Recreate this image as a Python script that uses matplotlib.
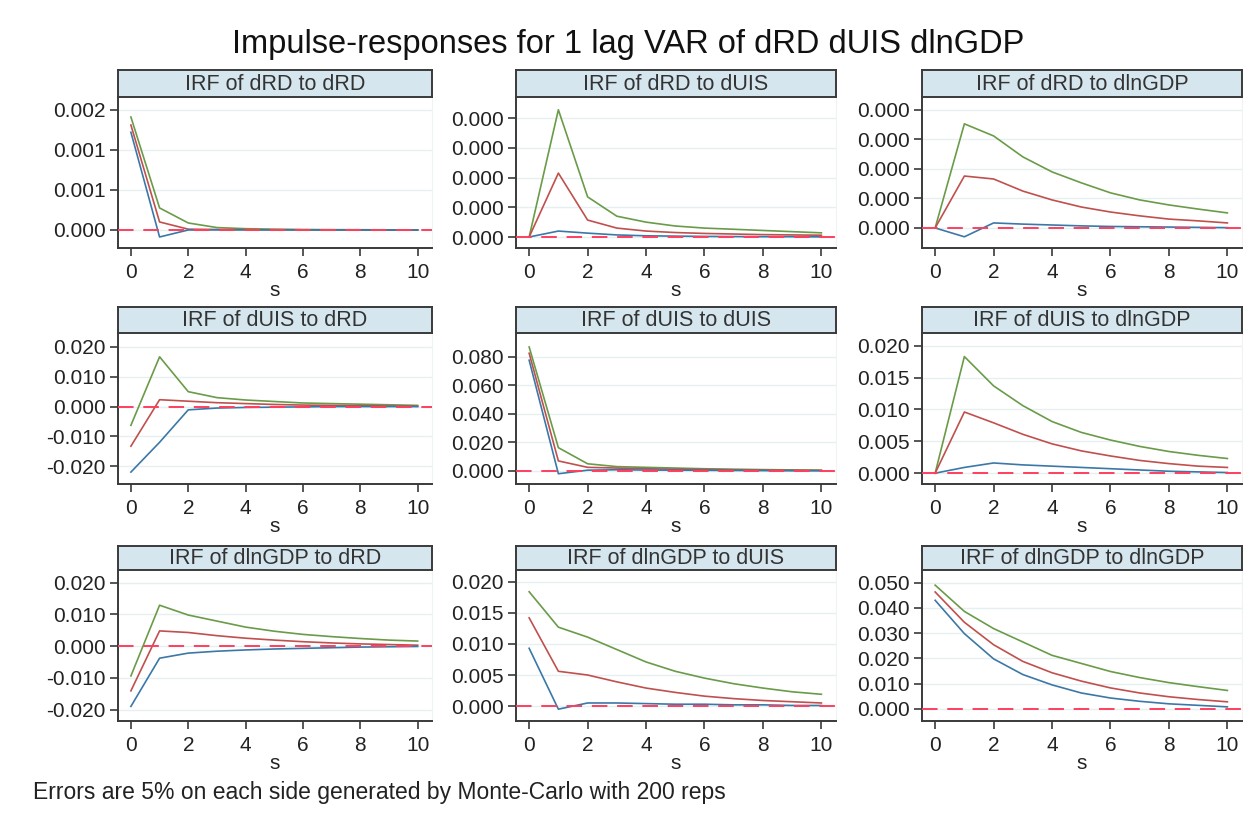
import numpy as np
import matplotlib
matplotlib.use("Agg")
import matplotlib.pyplot as plt
from matplotlib.ticker import FormatStrFormatter

plt.rcParams['font.family'] = ['Liberation Sans', 'DejaVu Sans']

# horizon
steps = list(range(11))

# panel titles, row by row
titles = ["IRF of dRD to dRD", "IRF of dRD to dUIS", "IRF of dRD to dlnGDP",
          "IRF of dUIS to dRD", "IRF of dUIS to dUIS", "IRF of dUIS to dlnGDP",
          "IRF of dlnGDP to dRD", "IRF of dlnGDP to dUIS", "IRF of dlnGDP to dlnGDP"]

# upper bound (green), irf (red), lower bound (blue) for each panel
rd_rd_hi = [0.00141, 0.000275, 0.0000875, 0.00003, 0.000016, 0.00001, 0.000006, 0.000004, 0.000003, 0.000002, 0.000001]
rd_rd_irf = [0.00131, 0.0001, 0.00001, 0.000006, 0.000004, 0.000003, 0.000002, 0.000001, 0.000001, 0.0, 0.0]
rd_rd_lo = [0.00122, -0.0000875, 0.0, 0.000002, 0.000002, 0.000001, 0.000001, 0.0, 0.0, 0.0, 0.0]

rd_uis_hi = [0.0, 0.000428, 0.000135, 0.00007, 0.00005, 0.000037, 0.00003, 0.000026, 0.000022, 0.000018, 0.000014]
rd_uis_irf = [0.0, 0.000215, 0.000057, 0.00003, 0.00002, 0.000015, 0.000012, 0.00001, 0.000008, 0.000007, 0.000006]
rd_uis_lo = [0.0, 0.00002, 0.000013, 0.000007, 0.000004, 0.000003, 0.000002, 0.0000015, 0.000001, 0.000001, 0.0000005]

rd_gdp_hi = [0.0, 0.000353, 0.000312, 0.000241, 0.00019, 0.000153, 0.000119, 0.000095, 0.000078, 0.000064, 0.000051]
rd_gdp_irf = [0.0, 0.000176, 0.000166, 0.000125, 0.000095, 0.000071, 0.000054, 0.000041, 0.00003, 0.000024, 0.000017]
rd_gdp_lo = [0.0, -0.00003, 0.000017, 0.000013, 0.00001, 0.000007, 0.000005, 0.000004, 0.000003, 0.000002, 0.000001]

uis_rd_hi = [-0.0063, 0.0167, 0.0050, 0.0030, 0.0022, 0.0017, 0.0012, 0.0010, 0.0008, 0.0006, 0.0004]
uis_rd_irf = [-0.0133, 0.0023, 0.0018, 0.0013, 0.0010, 0.0007, 0.0005, 0.0004, 0.0003, 0.0002, 0.0001]
uis_rd_lo = [-0.0220, -0.0120, -0.0011, -0.0005, -0.0003, -0.0002, -0.0001, 0.0, 0.0, 0.0, 0.0]

uis_uis_hi = [0.0870, 0.0163, 0.0050, 0.0030, 0.0025, 0.0020, 0.0015, 0.0012, 0.0009, 0.0007, 0.0005]
uis_uis_irf = [0.0826, 0.0070, 0.0025, 0.0020, 0.0015, 0.0012, 0.0010, 0.0007, 0.0005, 0.0004, 0.0003]
uis_uis_lo = [0.0777, -0.0020, 0.0005, 0.0008, 0.0006, 0.0005, 0.0004, 0.0003, 0.0002, 0.0001, 0.0001]

uis_gdp_hi = [0.0, 0.0183, 0.0137, 0.0106, 0.0081, 0.0064, 0.0052, 0.0042, 0.0034, 0.0028, 0.0023]
uis_gdp_irf = [0.0, 0.0096, 0.0079, 0.0061, 0.0046, 0.0035, 0.0027, 0.0020, 0.0015, 0.0011, 0.0009]
uis_gdp_lo = [0.0, 0.0009, 0.0016, 0.0013, 0.0011, 0.0009, 0.0007, 0.0005, 0.0003, 0.0002, 0.0001]

gdp_rd_hi = [-0.0094, 0.0129, 0.0098, 0.0079, 0.0060, 0.0047, 0.0037, 0.0030, 0.0024, 0.0019, 0.0016]
gdp_rd_irf = [-0.0141, 0.0048, 0.0043, 0.0033, 0.0025, 0.0019, 0.0014, 0.0010, 0.0007, 0.0005, 0.0003]
gdp_rd_lo = [-0.0190, -0.0038, -0.0022, -0.0016, -0.0012, -0.0009, -0.0007, -0.0005, -0.0003, -0.0002, -0.0001]

gdp_uis_hi = [0.0184, 0.0127, 0.0111, 0.0091, 0.0071, 0.0056, 0.0045, 0.0036, 0.0029, 0.0023, 0.0019]
gdp_uis_irf = [0.0142, 0.0056, 0.0050, 0.0039, 0.0029, 0.0022, 0.0016, 0.0012, 0.0009, 0.0007, 0.0005]
gdp_uis_lo = [0.0093, -0.0005, 0.0005, 0.0005, 0.0004, 0.0003, 0.0003, 0.0002, 0.0002, 0.0001, 0.0001]

gdp_gdp_hi = [0.0490, 0.0386, 0.0318, 0.0265, 0.0212, 0.0180, 0.0148, 0.0124, 0.0104, 0.0088, 0.0073]
gdp_gdp_irf = [0.0463, 0.0343, 0.0254, 0.0188, 0.0143, 0.0110, 0.0083, 0.0063, 0.0048, 0.0037, 0.0028]
gdp_gdp_lo = [0.0430, 0.0298, 0.0198, 0.0136, 0.0095, 0.0063, 0.0043, 0.0030, 0.0020, 0.0014, 0.0008]

his = [rd_rd_hi, rd_uis_hi, rd_gdp_hi, uis_rd_hi, uis_uis_hi, uis_gdp_hi, gdp_rd_hi, gdp_uis_hi, gdp_gdp_hi]
irfs = [rd_rd_irf, rd_uis_irf, rd_gdp_irf, uis_rd_irf, uis_uis_irf, uis_gdp_irf, gdp_rd_irf, gdp_uis_irf, gdp_gdp_irf]
los = [rd_rd_lo, rd_uis_lo, rd_gdp_lo, uis_rd_lo, uis_uis_lo, uis_gdp_lo, gdp_rd_lo, gdp_uis_lo, gdp_gdp_lo]

# y ticks and limits per panel
yticks = [[0, 0.0005, 0.001, 0.0015],
          [0, 0.0001, 0.0002, 0.0003, 0.0004],
          [0, 0.0001, 0.0002, 0.0003, 0.0004],
          [-0.02, -0.01, 0, 0.01, 0.02],
          [0, 0.02, 0.04, 0.06, 0.08],
          [0, 0.005, 0.01, 0.015, 0.02],
          [-0.02, -0.01, 0, 0.01, 0.02],
          [0, 0.005, 0.01, 0.015, 0.02],
          [0, 0.01, 0.02, 0.03, 0.04, 0.05]]
ylims = [(-0.000225, 0.00166), (-0.000037, 0.000471), (-0.000068, 0.000444),
         (-0.026, 0.0247), (-0.0092, 0.0968), (-0.0017, 0.022),
         (-0.0236, 0.024), (-0.0024, 0.0219), (-0.0048, 0.055)]

W, H = 1256, 823
fig = plt.figure(figsize=(W / 100, H / 100), dpi=100)
fig.patch.set_facecolor("white")

# pixel boxes of the plot regions
cols = [(118, 432), (516, 836), (922, 1242)]
rows = [(70, 97, 248), (307, 333, 484), (546, 570, 721)]

green = "#6a9b48"
red = "#c0504d"
blue = "#3b78a8"
dark = "#3a3a3a"

for i in range(9):
    r, c = divmod(i, 3)
    x0, x1 = cols[c]
    s0, p0, p1 = rows[r]
    ax = fig.add_axes([x0 / W, 1 - p1 / H, (x1 - x0) / W, (p1 - p0) / H])
    st = fig.add_axes([x0 / W, 1 - p0 / H, (x1 - x0) / W, (p0 - s0) / H])

    # strip title
    st.set_facecolor("#d5e6ee")
    st.set_xticks([])
    st.set_yticks([])
    for sp in st.spines.values():
        sp.set_color(dark)
        sp.set_linewidth(1.4)
    st.text(0.5, 0.48, titles[i], ha="center", va="center", fontsize=15.5,
            color="#333333", transform=st.transAxes)

    ax.plot(steps, his[i], color=green, lw=1.2)
    ax.plot(steps, irfs[i], color=red, lw=1.2)
    ax.plot(steps, los[i], color=blue, lw=1.2)
    ax.axhline(0, color="#ff3f5f", lw=1.4, ls=(0, (8, 5)), zorder=5)

    ax.set_xlim(-0.45, 10.5)
    ax.set_ylim(ylims[i])
    ax.set_xticks([0, 2, 4, 6, 8, 10])
    ax.set_yticks(yticks[i])
    ax.yaxis.set_major_formatter(FormatStrFormatter("%.3f"))
    ax.grid(axis="y", color="#e6f0f2", lw=1.0)
    ax.set_axisbelow(True)
    ax.tick_params(direction="out", length=6, width=1.2, color=dark,
                   labelsize=15, labelcolor="#222222", pad=3)
    ax.tick_params(axis="x", pad=5)
    ax.spines["top"].set_visible(False)
    ax.spines["right"].set_color("#eef4f6")
    ax.spines["left"].set_color(dark)
    ax.spines["bottom"].set_color(dark)
    ax.spines["left"].set_linewidth(1.4)
    ax.spines["bottom"].set_linewidth(1.4)
    ax.set_xlabel("s", fontsize=15, color="#222222", labelpad=-1)

fig.text(0.5, 1 - 45 / H, "Impulse-responses for 1 lag VAR of dRD dUIS dlnGDP",
         ha="center", va="center", fontsize=23.5, color="#111111")
fig.text(33 / W, 1 - 793 / H, "Errors are 5% on each side generated by Monte-Carlo with 200 reps",
         ha="left", va="center", fontsize=16.5, color="#222222")

fig.savefig("out.png", dpi=100)
